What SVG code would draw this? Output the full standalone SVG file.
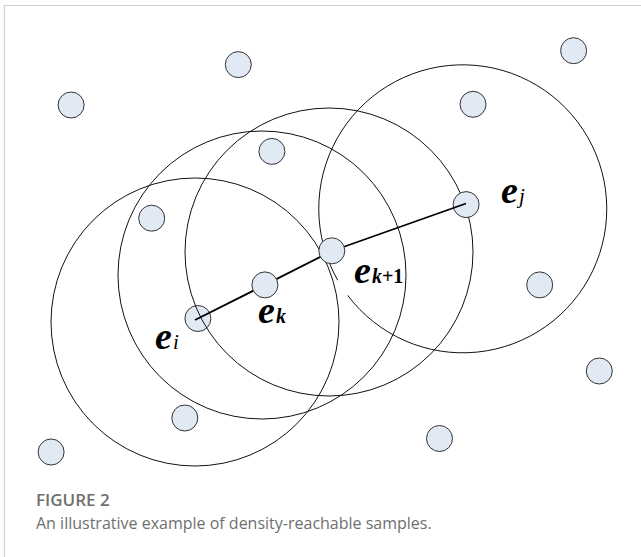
<svg xmlns="http://www.w3.org/2000/svg" width="641" height="557" viewBox="0 0 641 557">
<style>
.dot{fill:#e1e9f5;stroke:#333;stroke-width:1}
.ring{fill:none;stroke:#111;stroke-width:1}
.cap{fill:#6f6f6f}
</style>
<rect width="641" height="557" fill="#fff"/>
<path d="M4.5 557 V5.5 H641" fill="none" stroke="#cfcfcf" stroke-width="1.2"/>
<g id="node-ei-dot"><circle class="dot" cx="197.9" cy="318.5" r="13"/></g>
<g id="rings">
<circle class="ring" cx="195" cy="322" r="144"/>
<circle class="ring" cx="262" cy="275" r="144"/>
<circle class="ring" cx="329" cy="252" r="144"/>
<path class="ring" d="M337.7 280.2 A144 144 0 1 1 347.7 295.4"/>
</g>
<g id="others">
<circle class="dot" cx="238.3" cy="64.6" r="13"/>
<circle class="dot" cx="573.6" cy="50.7" r="13"/>
<circle class="dot" cx="71.1" cy="105" r="13"/>
<circle class="dot" cx="473" cy="104.3" r="13"/>
<circle class="dot" cx="271.9" cy="151.4" r="13"/>
<circle class="dot" cx="151.7" cy="218.2" r="13"/>
<circle class="dot" cx="539.7" cy="284.9" r="13"/>
<circle class="dot" cx="599.3" cy="371" r="13"/>
<circle class="dot" cx="184.8" cy="418" r="13"/>
<circle class="dot" cx="439.5" cy="438.5" r="13"/>
<circle class="dot" cx="51.1" cy="452" r="13"/>
</g>
<g id="node-ej-dot"><circle class="dot" cx="466.1" cy="204.6" r="13"/></g>
<g id="connectors">
<polyline points="195,320 264.9,284.9 332,251 466,203.5" fill="none" stroke="#000" stroke-width="1.8"/>
</g>
<g id="node-ek-dot"><circle class="dot" cx="264.9" cy="284.9" r="13"/></g>
<g id="node-ek1-dot"><circle class="dot" cx="331.8" cy="250.8" r="13"/></g>
<g id="labels" font-family="Liberation Serif, Times New Roman, serif" fill="#000">
<text x="155" y="349" font-size="38" font-weight="bold" font-style="italic">e<tspan font-size="21" font-weight="normal" dx="1">i</tspan></text>
<text x="258" y="323" font-size="38" font-weight="bold" font-style="italic">e<tspan font-size="20" dx="1">k</tspan></text>
<text x="354" y="283" font-size="38" font-weight="bold" font-style="italic">e<tspan font-size="20" dx="1">k</tspan><tspan font-size="20" font-style="normal">+1</tspan></text>
<text x="501" y="203" font-size="38" font-weight="bold" font-style="italic">e<tspan font-size="21" font-weight="normal" dx="1">j</tspan></text>
</g>
<g id="caption" font-family="Open Sans, Noto Sans, sans-serif">
<text class="cap" x="36" y="506" font-size="17" font-weight="600">FIGURE 2</text>
<text class="cap" x="36" y="529" font-size="16">An illustrative example of density-reachable samples.</text>
</g>
</svg>
